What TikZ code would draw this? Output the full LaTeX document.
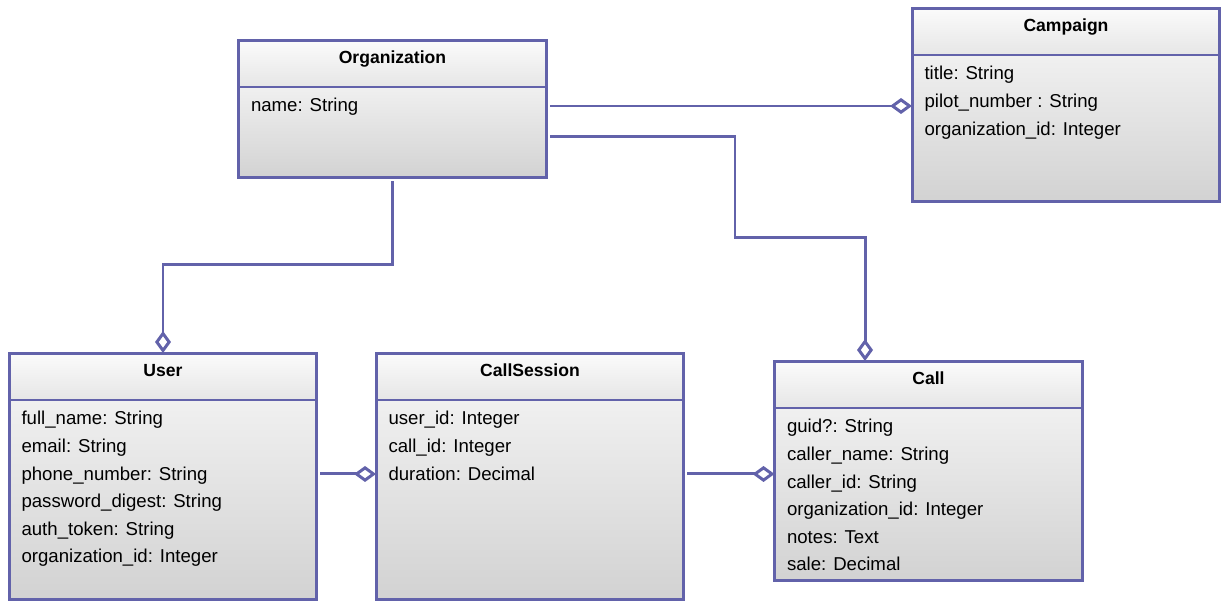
\documentclass[tikz,border=0pt]{standalone}
\usepackage{fontspec}
\setmainfont{Liberation Sans}
\usetikzlibrary{arrows.meta, positioning}

\definecolor{umlline}{HTML}{6262AA}
\definecolor{headtop}{HTML}{FBFBFB}
\definecolor{headbot}{HTML}{E6E6E6}
\definecolor{bodytop}{HTML}{F0F0F0}
\definecolor{bodybot}{HTML}{D2D2D2}

\begin{document}
\begin{tikzpicture}[
  x=0.02cm, y=-0.02cm,
  line width=1.7pt,
  head/.style={rectangle, draw=umlline, top color=headtop, bottom color=headbot, minimum width=6.16cm, minimum height=0.94cm, outer sep=0pt, text height=7pt, text depth=7pt, font=\bfseries\fontsize{10}{12}\selectfont},
  body/.style={rectangle, draw=umlline, top color=bodytop, bottom color=bodybot, minimum width=6.16cm, outer sep=0pt},
  attrs/.style={align=left, inner sep=0pt, font=\fontsize{10.6}{15.7}\selectfont},
  agg/.style={draw=umlline, shorten <=2pt, -{Diamond[length=0.44cm, width=0.32cm, fill=white]}}
]
\useasboundingbox (0,0) rectangle (1225,603);

\node[head, anchor=north] (org) at (392.5,40) {Organization};
\node[body, below=0pt of org, minimum height=1.82cm] (orgb) {};
\node[attrs, below right=0.2cm and 0.22cm of orgb.north west] (orga) {name: String};

\node[head, anchor=north] (camp) at (1066,8) {Campaign};
\node[body, below=0pt of camp, minimum height=2.94cm] (campb) {};
\node[attrs, below right=0.2cm and 0.22cm of campb.north west] (campa) {title: String\\pilot\_number : String\\organization\_id: Integer};

\node[head, anchor=north] (user) at (163,353) {User};
\node[body, below=0pt of user, minimum height=4cm] (userb) {};
\node[attrs, below right=0.2cm and 0.22cm of userb.north west] (usera) {full\_name: String\\email: String\\phone\_number: String\\password\_digest: String\\auth\_token: String\\organization\_id: Integer};

\node[head, anchor=north] (cs) at (530,353) {CallSession};
\node[body, below=0pt of cs, minimum height=4cm] (csb) {};
\node[attrs, below right=0.2cm and 0.22cm of csb.north west] (csa) {user\_id: Integer\\call\_id: Integer\\duration: Decimal};

\node[head, anchor=north] (call) at (928.5,361) {Call};
\node[body, below=0pt of call, minimum height=3.46cm] (callb) {};
\node[attrs, below right=0.2cm and 0.22cm of callb.north west] (calla) {guid?: String\\caller\_name: String\\caller\_id: String\\organization\_id: Integer\\notes: Text\\sale: Decimal};

\coordinate (oc) at ([yshift=-0.38cm]orgb.north east);
\coordinate (ok) at ([yshift=-1cm]orgb.north east);
\coordinate (kink) at (735,237);
\coordinate (uc) at ([yshift=-1.48cm]userb.north east);
\coordinate (cc) at ([yshift=-1.48cm]csb.north east);

\draw[agg] (oc) -- (oc -| campb.west);
\draw[agg] (ok) -| (kink) -| ([xshift=-1.27cm]call.north);
\draw[agg] (orgb.south) -- ++(0,87) -| (user.north);
\draw[agg] (uc) -- (uc -| csb.west);
\draw[agg] (cc) -- (cc -| callb.west);
\end{tikzpicture}
\end{document}
